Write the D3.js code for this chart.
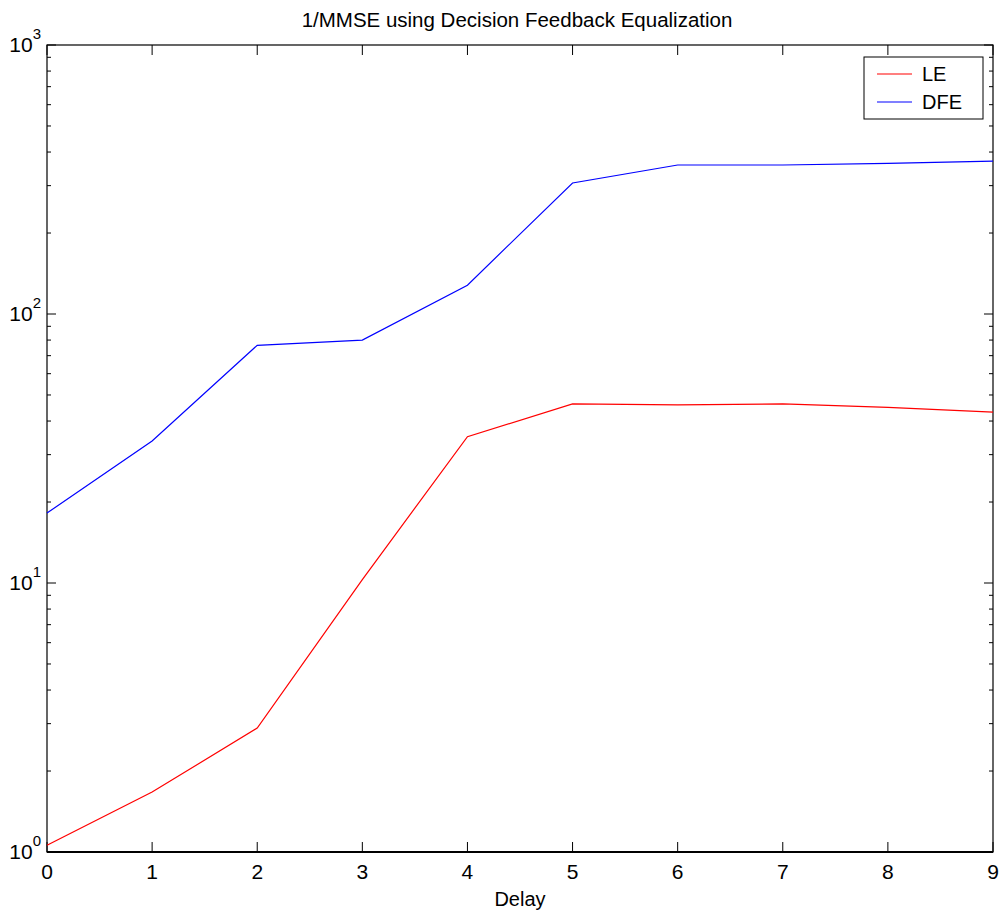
<!DOCTYPE html>
<html><head><meta charset="utf-8">
<script src="https://cdn.jsdelivr.net/npm/d3@7"></script>
<style>body{margin:0;background:#fff}svg{display:block}text{font-family:"Liberation Sans",Arial,sans-serif;fill:#000}</style>
</head><body><svg id="c" width="1005" height="914"></svg>
<script>
const delays = [0,1,2,3,4,5,6,7,8,9];
const leValues = [1.06, 1.67, 2.89, 10.3, 35.0, 46.3, 45.9, 46.3, 45.0, 43.2];
const dfeValues = [18.2, 33.7, 76.5, 80.0, 128, 307, 358, 358, 363, 370];
const xTicks = [0,1,2,3,4,5,6,7,8,9];
const yDecades = [0,1,2,3];
const seriesNames = ["LE","DFE"];
const seriesColors = ["#ff0000","#0000ff"];
const title = "1/MMSE using Decision Feedback Equalization";
const xLabel = "Delay";

const L=47,R=993,T=45,B=852;
const svg=d3.select("#c");
const x=d3.scaleLinear().domain([0,9]).range([L,R]);
const y=d3.scaleLog().domain([1,1000]).range([B,T]);

// minor ticks
const minors=[];
for(let d=0;d<3;d++)for(let k=2;k<=9;k++)minors.push(k*Math.pow(10,d));
const g=svg.append("g");
minors.forEach(v=>{
  g.append("line").attr("x1",L).attr("x2",L+4).attr("y1",y(v)).attr("y2",y(v)).attr("stroke","#000");
  g.append("line").attr("x1",R).attr("x2",R-4).attr("y1",y(v)).attr("y2",y(v)).attr("stroke","#000");
});
yDecades.forEach(d=>{
  const v=Math.pow(10,d);
  g.append("line").attr("x1",L).attr("x2",L+9).attr("y1",y(v)).attr("y2",y(v)).attr("stroke","#000");
  g.append("line").attr("x1",R).attr("x2",R-9).attr("y1",y(v)).attr("y2",y(v)).attr("stroke","#000");
  const t=g.append("text").attr("x",L-6).attr("y",y(v)+7).attr("text-anchor","end").style("font-size","21px");
  t.append("tspan").text("10");
  t.append("tspan").attr("dy",-13).style("font-size","15px").text(d);
});
xTicks.forEach(v=>{
  g.append("line").attr("x1",x(v)).attr("x2",x(v)).attr("y1",B).attr("y2",B-10).attr("stroke","#000");
  g.append("line").attr("x1",x(v)).attr("x2",x(v)).attr("y1",T).attr("y2",T+10).attr("stroke","#000");
  g.append("text").attr("x",x(v)).attr("y",B+27).attr("text-anchor","middle").style("font-size","21px").text(v);
});
// frame
svg.append("rect").attr("x",L).attr("y",T).attr("width",R-L).attr("height",B-T).attr("fill","none").attr("stroke","#000").attr("stroke-width",1.2);
svg.append("line").attr("x1",L).attr("x2",R).attr("y1",B).attr("y2",B).attr("stroke","#000").attr("stroke-width",2);

const line=d3.line().x((d,i)=>x(delays[i])).y(d=>y(d));
[leValues,dfeValues].forEach((s,i)=>{
  svg.append("path").attr("d",line(s)).attr("fill","none").attr("stroke",seriesColors[i]).attr("stroke-width",1.2);
});

svg.append("text").attr("x",(L+R)/2-3).attr("y",27).attr("text-anchor","middle").style("font-size","20.5px").text(title);
svg.append("text").attr("x",(L+R)/2).attr("y",906).attr("text-anchor","middle").style("font-size","20px").text(xLabel);

// legend
const lg=svg.append("g");
lg.append("rect").attr("x",864).attr("y",57).attr("width",119).attr("height",62).attr("fill","#fff").attr("stroke","#000");
seriesNames.forEach((n,i)=>{
  const yy=74+i*28;
  lg.append("line").attr("x1",877).attr("x2",912).attr("y1",yy).attr("y2",yy).attr("stroke",seriesColors[i]).attr("stroke-width",1.2);
  lg.append("text").attr("x",922).attr("y",yy+7).style("font-size","20px").text(n);
});
</script></body></html>
